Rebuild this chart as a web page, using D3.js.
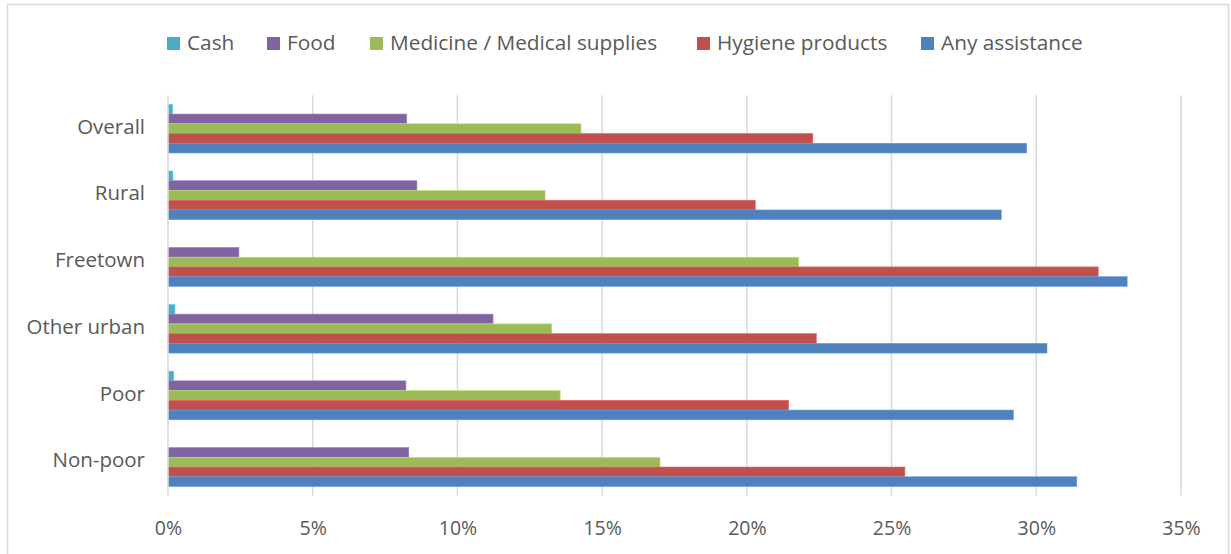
<!DOCTYPE html>
<html><head><meta charset="utf-8">
<script src="https://cdn.jsdelivr.net/npm/d3@7"></script>
<style>
html,body{margin:0;padding:0;background:#fff;}
svg text{font-family:"Open Sans",Lato,sans-serif;fill:#595959;}
</style></head>
<body>
<svg id="chart" width="1231" height="554"></svg>
<script>
const categories = ["Overall","Rural","Freetown","Other urban","Poor","Non-poor"];
const seriesNames = ["Cash","Food","Medicine / Medical supplies","Hygiene products","Any assistance"];
const seriesColors = ["#4bacc6","#8064a2","#9bbb59","#c0504d","#4f81bd"];
const cash     = [0.16, 0.17, 0.0, 0.24, 0.20, 0.0];
const food     = [8.25, 8.6, 2.45, 11.23, 8.22, 8.32];
const medicine = [14.27, 13.03, 21.79, 13.26, 13.55, 17.0];
const hygiene  = [22.28, 20.29, 32.14, 22.40, 21.44, 25.46];
const anyAssist= [29.67, 28.79, 33.14, 30.37, 29.21, 31.40];
const xTicks = [0,5,10,15,20,25,30,35];

const seriesValues = [cash, food, medicine, hygiene, anyAssist];

const svg = d3.select("#chart");
const plot = {left:168, right:1181, top:95.3, bottom:495.5};

// chart border
svg.append("rect").attr("x",7.5).attr("y",4.5).attr("width",1221).attr("height",600)
  .attr("fill","none").attr("stroke","#d9d9d9").attr("stroke-width",1.5);

const x = d3.scaleLinear().domain([0,35]).range([plot.left, plot.right]);
const y0 = d3.scaleBand().domain(categories).range([plot.top, plot.bottom])
  .paddingInner(0.27).paddingOuter(0.135);
const y1 = d3.scaleBand().domain(seriesNames).range([0, y0.bandwidth()]);

// gridlines
svg.append("g").selectAll("line").data(xTicks.filter(d=>d>0)).join("line")
  .attr("x1",d=>x(d)).attr("x2",d=>x(d)).attr("y1",plot.top).attr("y2",plot.bottom)
  .attr("stroke","#d9d9d9").attr("stroke-width",1.5);

// x axis labels
const xAxis = d3.axisBottom(x).tickValues(xTicks).tickFormat(d=>d+"%").tickSize(0).tickPadding(0);
const gx = svg.append("g").attr("transform",`translate(0,${plot.bottom})`).call(xAxis);
gx.select(".domain").remove();
gx.selectAll("text").attr("y",33).attr("dy","0.35em").style("font-size","19.5px").style("fill","#595959");

// bars
const groups = svg.append("g").selectAll("g").data(categories).join("g")
  .attr("transform",d=>`translate(0,${y0(d)})`);
groups.selectAll("rect").data((c,i)=>seriesNames.map((s,j)=>({s, j, v:seriesValues[j][i]})))
  .join("rect")
  .attr("x",x(0))
  .attr("y",d=>y1(d.s))
  .attr("width",d=>x(d.v)-x(0))
  .attr("height",y1.bandwidth())
  .attr("fill",d=>seriesColors[d.j])
  .attr("stroke",d=>d3.color(seriesColors[d.j]).brighter(0.6))
  .attr("stroke-width",d=>d.v>0?0.6:0);

// y axis line
svg.append("line").attr("x1",plot.left).attr("x2",plot.left).attr("y1",plot.top).attr("y2",plot.bottom)
  .attr("stroke","#d9d9d9").attr("stroke-width",1.5);

// y axis labels
const yAxis = d3.axisLeft(y0).tickSize(0).tickPadding(23);
const gy = svg.append("g").attr("transform",`translate(${plot.left},-1.5)`).call(yAxis);
gy.select(".domain").remove();
gy.selectAll("text").style("font-size","20.5px").style("fill","#595959");

// legend
const legendX = [167, 267, 370, 697, 921];
const lg = svg.append("g").selectAll("g").data(seriesNames).join("g")
  .attr("transform",(d,i)=>`translate(${legendX[i]},37)`);
lg.append("rect").attr("width",13).attr("height",13).attr("fill",(d,i)=>seriesColors[i]);
lg.append("text").attr("x",20).attr("y",6).attr("dy","0.35em").style("font-size","20.8px").text(d=>d);
</script>
</body></html>
